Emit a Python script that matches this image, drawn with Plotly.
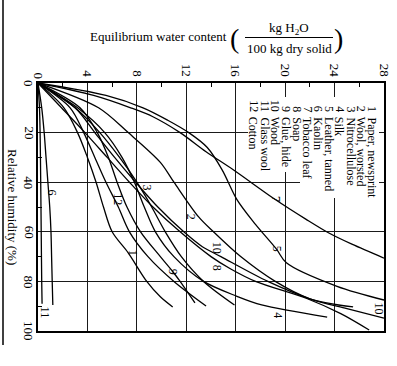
import plotly.graph_objects as go

FONT = "Liberation Serif"

# ---- data (relative humidity %, equilibrium water content kg/100 kg dry solid) ----
rh_paper = [0, 10, 20, 30, 40, 50, 60, 68.5, 80, 86.2, 90.3]
w_paper = [0, 2.1, 3.2, 4.0, 4.7, 5.3, 6.0, 7.3, 8.8, 9.9, 10.9]

rh_wool = [0, 10, 20, 32, 40, 54, 60, 70, 80, 87, 90.3]
w_wool = [0, 4.9, 7.3, 9.9, 11.0, 13.0, 14.2, 16.4, 19.2, 22.0, 25.5]

rh_nitro = [0, 10, 20, 30, 40, 50, 60, 70, 80, 89.5]
w_nitro = [0, 3.0, 5.0, 6.6, 8.0, 9.2, 10.3, 11.6, 13.4, 15.9]

rh_silk = [0, 10, 20, 30, 40, 50, 60, 70, 80, 86, 89.5, 94.4]
w_silk = [0, 3.2, 5.4, 6.8, 7.8, 8.6, 9.5, 11.0, 13.4, 16.1, 18.1, 23.4]

rh_leather = [0, 5, 10, 15, 20, 26, 35, 47, 57, 67, 72.5, 82, 87.5]
w_leather = [0, 5.5, 8.5, 10.5, 12.2, 13.7, 14.9, 16.1, 17.6, 19.3, 20.1, 24.2, 28.0]

rh_kaolin = [0, 10, 20, 30, 40, 50, 60, 70, 80, 89.5]
w_kaolin = [0, 0.3, 0.5, 0.65, 0.8, 0.95, 1.05, 1.1, 1.15, 1.2]

rh_tobacco = [0, 5, 10, 13.6, 20, 27.7, 35, 47, 55, 60.4, 65, 70.6]
w_tobacco = [0, 4.5, 7.5, 9.3, 11.5, 13.6, 15.8, 19.2, 21.7, 23.5, 25.4, 28.0]

rh_soap = [0, 10, 20, 30, 40, 50, 60, 70, 75, 80, 87, 93, 99.6]
w_soap = [0, 1.9, 3.8, 5.6, 7.4, 9.3, 11.5, 14.0, 15.6, 17.6, 21.8, 24.5, 26.8]

rh_glue = [0, 10, 20, 30, 40, 50, 60, 70, 76, 80, 88.7]
w_glue = [0, 3.4, 4.8, 5.7, 6.4, 7.2, 8.3, 9.9, 10.9, 11.5, 12.7]

rh_wood = [0, 10, 20, 30, 40, 50, 60, 66, 70, 80, 87, 91, 94.8]
w_wood = [0, 3.0, 4.6, 6.2, 7.9, 9.7, 11.8, 13.3, 14.8, 18.6, 22.0, 25.0, 28.0]

rh_glass = [0, 10, 20, 40, 60, 80, 89]
w_glass = [0, 0.12, 0.17, 0.22, 0.26, 0.30, 0.33]

rh_cotton = [0, 10, 20, 30, 40, 50, 60, 70, 80, 89.9]
w_cotton = [0, 2.6, 3.7, 4.6, 5.5, 6.5, 7.4, 8.9, 11.0, 13.6]

material_numbers = [1, 2, 3, 4, 5, 6, 7, 8, 9, 10, 11, 12]
material_names = ["Paper, newsprint", "Wool, worsted", "Nitrocellulose", "Silk",
                  "Leather, tanned", "Kaolin", "Tobacco leaf", "Soap", "Glue, hide",
                  "Wood", "Glass wool", "Cotton"]

water_ticks = [0, 4, 8, 12, 16, 20, 24, 28]
rh_ticks = [0, 20, 40, 60, 80, 100]

series = [
    (w_paper, rh_paper), (w_wool, rh_wool), (w_nitro, rh_nitro), (w_silk, rh_silk),
    (w_leather, rh_leather), (w_kaolin, rh_kaolin), (w_tobacco, rh_tobacco),
    (w_soap, rh_soap), (w_glue, rh_glue), (w_wood, rh_wood), (w_glass, rh_glass),
    (w_cotton, rh_cotton),
]

# ---- layout geometry (pixels) ----
W_FIG, H_FIG = 397, 366
L, R, T, B = 38, 13, 83, 35
PW, PH = W_FIG - L - R, H_FIG - T - B


def pxw(px):  # pixel x -> water content
    return (px - L) / PW * 28


def pyr(py):  # pixel y -> RH
    return (py - T) / PH * 100


def fx(px):
    return (px - L) / PW


def fy(py):
    return (H_FIG - B - py) / PH


fig = go.Figure()
for w, rh in series:
    fig.add_trace(go.Scatter(x=w, y=rh, mode="lines",
                             line=dict(color="black", width=1.3, shape="spline", smoothing=0.9),
                             showlegend=False, hoverinfo="skip"))

axis_common = dict(showline=True, linecolor="black", linewidth=1.6, mirror=True,
                   showgrid=True, gridcolor="#1a1a1a", gridwidth=1, zeroline=False,
                   ticks="", tickangle=90, automargin=False,
                   tickfont=dict(family=FONT, size=13, color="black"))

fig.update_xaxes(range=[0, 28], side="top", tickvals=water_ticks[1:],
                 ticktext=[str(v) for v in water_ticks[1:]],
                 minor=dict(tickvals=[2, 6, 10, 14, 18, 22, 26], ticks="inside",
                            ticklen=4, tickcolor="black", tickwidth=1, showgrid=False),
                 **axis_common)
fig.update_yaxes(range=[100, 0], tickvals=rh_ticks, showticklabels=False,
                 minor=dict(tickvals=[10, 30, 50, 70, 90], ticks="inside",
                            ticklen=4, tickcolor="black", tickwidth=1, showgrid=False),
                 **axis_common)

shapes = []
# white legend box hiding the grid behind the legend text
shapes.append(dict(type="rect", xref="x", yref="y", layer="between",
                   x0=pxw(248), x1=pxw(379), y0=pyr(97), y1=pyr(172),
                   fillcolor="white", line=dict(width=0)))
shapes.append(dict(type="rect", xref="x", yref="y", layer="between",
                   x0=pxw(300), x1=pxw(379), y0=pyr(170), y1=pyr(198),
                   fillcolor="white", line=dict(width=0)))
# fraction bar in title
shapes.append(dict(type="line", xref="paper", yref="paper",
                   x0=fx(245), x1=fx(333), y0=fy(37.5), y1=fy(37.5),
                   line=dict(color="black", width=1)))
# page border at far left
shapes.append(dict(type="line", xref="paper", yref="paper",
                   x0=fx(3), x1=fx(3), y0=fy(0), y1=fy(345),
                   line=dict(color="black", width=1.5)))

ann = []
tf = dict(family=FONT, size=13, color="black")
ann.append(dict(text="Equilibrium water content", xref="paper", yref="paper",
                x=fx(158), y=fy(37), xanchor="center", yanchor="middle",
                showarrow=False, font=tf))
ann.append(dict(text="(", xref="paper", yref="paper", x=fx(234), y=fy(38),
                xanchor="center", yanchor="middle", showarrow=False,
                font=dict(family=FONT, size=28, color="black")))
ann.append(dict(text=")", xref="paper", yref="paper", x=fx(338), y=fy(38),
                xanchor="center", yanchor="middle", showarrow=False,
                font=dict(family=FONT, size=28, color="black")))
ann.append(dict(text="kg H<sub>2</sub>O", xref="paper", yref="paper", x=fx(289), y=fy(28),
                xanchor="center", yanchor="middle", showarrow=False, font=tf))
ann.append(dict(text="100 kg dry solid", xref="paper", yref="paper", x=fx(289), y=fy(48),
                xanchor="center", yanchor="middle", showarrow=False, font=tf))
ann.append(dict(text="Relative humidity (%)", xref="paper", yref="paper",
                x=fx(13), y=fy(207), xanchor="center", yanchor="middle",
                textangle=90, showarrow=False, font=tf))
# zero label of the water-content axis (top-left corner)
ann.append(dict(text=str(water_ticks[0]), xref="x", yref="paper", x=water_ticks[0],
                y=fy(80), xanchor="center", yanchor="bottom", textangle=90,
                showarrow=False, font=tf, borderpad=0))
# relative-humidity tick labels (rotated, close to the axis)
for v in rh_ticks:
    ann.append(dict(text=str(v), xref="paper", yref="y", x=fx(29), y=v,
                    xanchor="center", yanchor="middle", textangle=90,
                    showarrow=False, font=tf, borderpad=0))

# legend columns
lf = dict(family=FONT, size=12, color="black")
for i, (num, name) in enumerate(zip(material_numbers, material_names)):
    colx = pxw(372 - 10.75 * i)
    ann.append(dict(text=str(num), x=colx, y=pyr(113), xref="x", yref="y",
                    xanchor="center", yanchor="bottom", textangle=90,
                    showarrow=False, font=lf, borderpad=0))
    ann.append(dict(text=name, x=colx, y=pyr(116), xref="x", yref="y",
                    xanchor="center", yanchor="top", textangle=90,
                    showarrow=False, font=lf, borderpad=0))

# curve labels
curve_labels = ["6", "3", "12", "2", "1", "9", "10", "8", "5", "7", "4", "10", "11"]
label_w = [1.1, 8.8, 6.5, 12.4, 7.7, 10.9, 14.5, 14.5, 19.3, 19.3, 19.4, 27.6, 0.55]
label_rh = [44, 42, 47, 54, 68.5, 76, 66.5, 74.6, 67, 47, 93.5, 91, 92.5]
for t, xw, yr in zip(curve_labels, label_w, label_rh):
    ann.append(dict(text=t, x=xw, y=yr, xref="x", yref="y", xanchor="center",
                    yanchor="middle", textangle=90, showarrow=False, font=lf))

fig.update_layout(width=W_FIG, height=H_FIG, margin=dict(l=L, r=R, t=T, b=B),
                  paper_bgcolor="white", plot_bgcolor="white",
                  shapes=shapes, annotations=ann)

fig.write_html("out.html", config={"displayModeBar": False},
               post_script="document.body.style.margin='0px';")
